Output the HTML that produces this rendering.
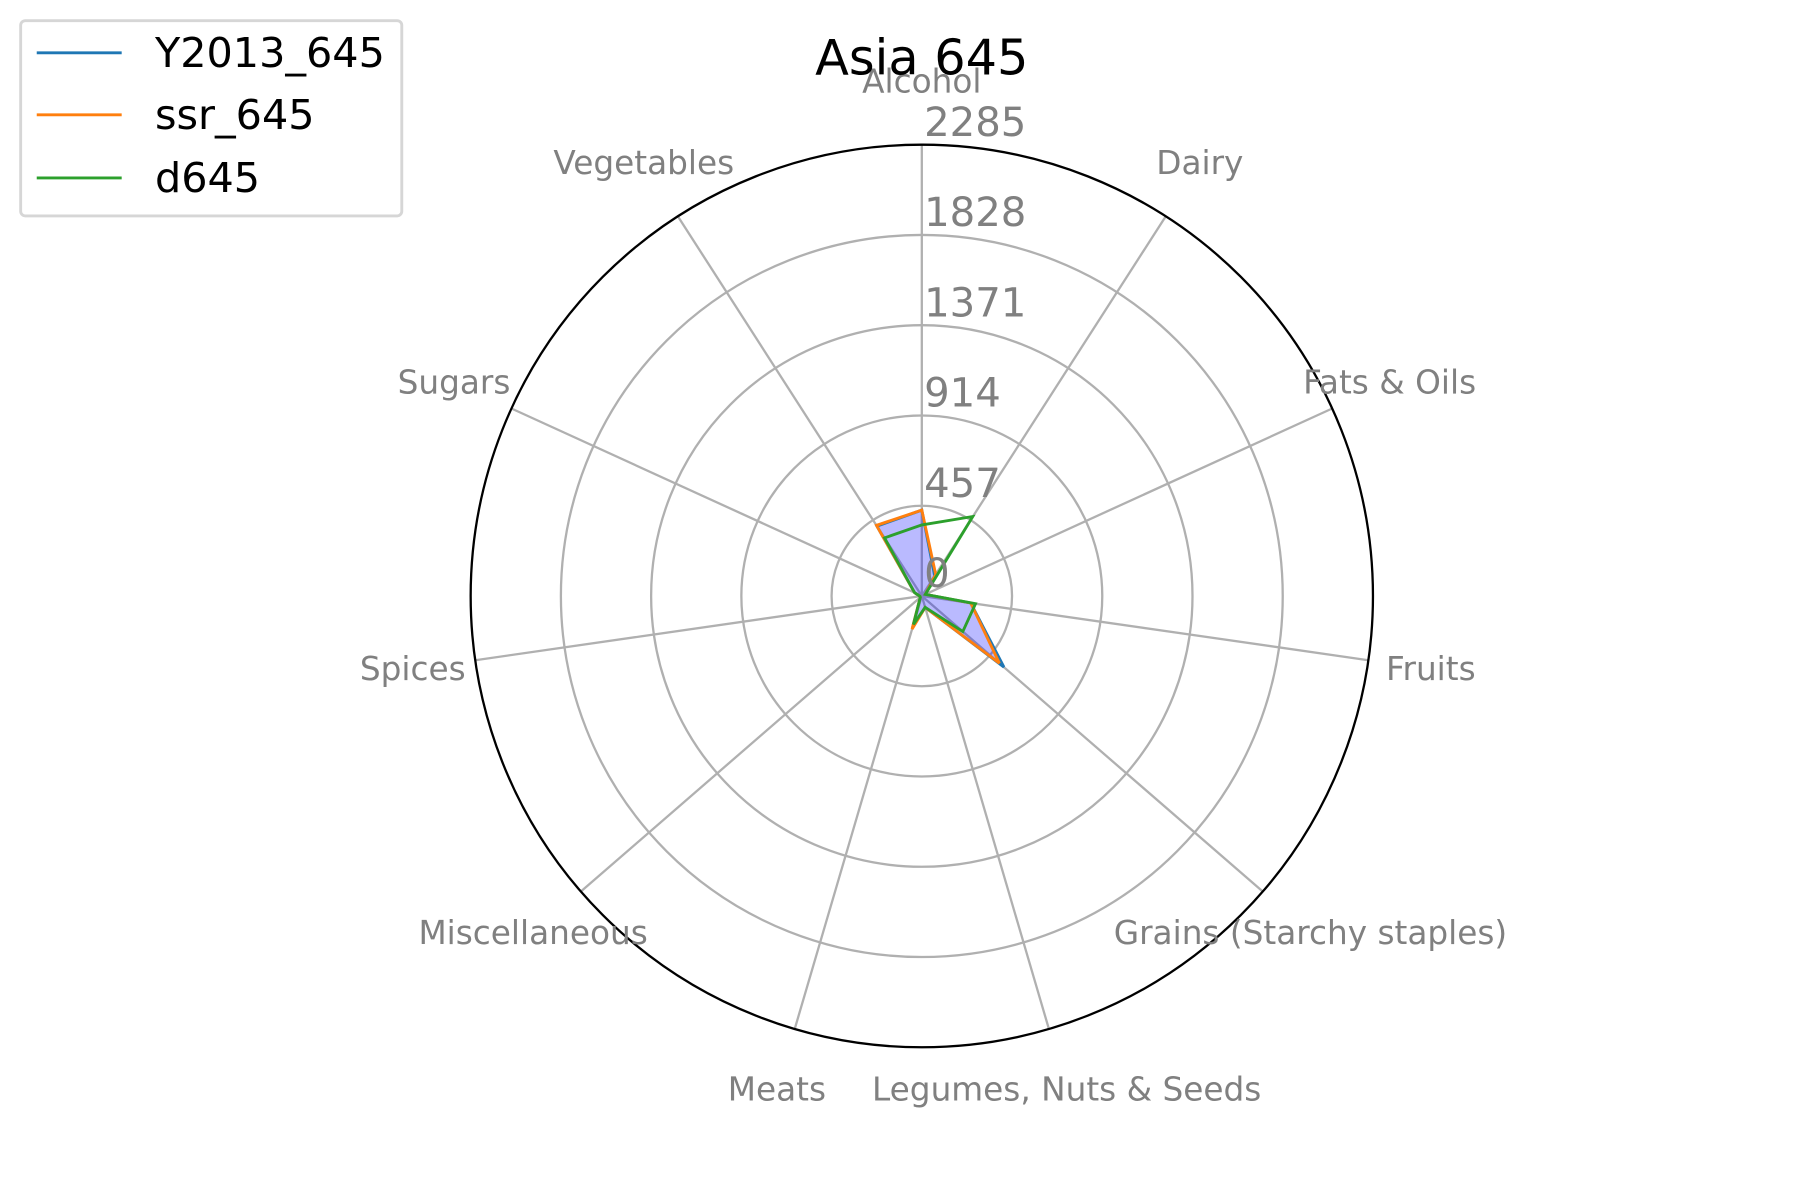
<!DOCTYPE html>
<html><head><meta charset="utf-8"><style>
html,body{margin:0;padding:0;background:#fff;}
svg{display:block;font-family:"DejaVu Sans","Liberation Sans",sans-serif;}
</style></head><body>
<svg id="chart" width="1800" height="1200" viewBox="0 0 1568 1045" preserveAspectRatio="none" xmlns="http://www.w3.org/2000/svg">
<rect width="1568" height="1045" fill="#fff"/>
<g id="grid"></g>
<g id="series"></g>
<g id="labels"></g>
<text x="803" y="65" font-size="43" text-anchor="middle" fill="#000">Asia 645</text>
<g>
<rect x="18" y="18" width="332" height="170" rx="4" fill="#fff" stroke="#d6d6d6" stroke-width="2.5"/>
<line x1="32" y1="46" x2="106" y2="46" stroke="#1f77b4" stroke-width="2.5"/>
<text x="135" y="46" font-size="36" dominant-baseline="central" fill="#000">Y2013_645</text>
<line x1="32" y1="100" x2="106" y2="100" stroke="#ff7f0e" stroke-width="2.5"/>
<text x="135" y="100" font-size="36" dominant-baseline="central" fill="#000">ssr_645</text>
<line x1="32" y1="155" x2="106" y2="155" stroke="#2ca02c" stroke-width="2.5"/>
<text x="135" y="155" font-size="36" dominant-baseline="central" fill="#000">d645</text>
</g>
</svg>
<script>
const categories = ["Alcohol","Dairy","Fats & Oils","Fruits","Grains (Starchy staples)","Legumes, Nuts & Seeds","Meats","Miscellaneous","Spices","Sugars","Vegetables"];
const y2013Values = [435,120,20,250,550,60,165,10,10,40,420];
const ssrValues = [435,130,20,250,520,60,175,10,10,40,425];
const d645Values = [360,478,20,275,275,60,150,10,10,40,350];
const tickValues = [0,457,914,1371,1828,2285];
const tickLabels = ["0","457","914","1371","1828","2285"];
const maxValue = 2285;

const NS="http://www.w3.org/2000/svg";
const cx=803, cy=519, R=393;
const n=categories.length;
function ang(i){return i*2*Math.PI/n;}
function rScale(v){return v/maxValue*R;}
function px(i,v){return cx+rScale(v)*Math.sin(ang(i));}
function py(i,v){return cy-rScale(v)*Math.cos(ang(i));}
function mk(tag,attrs,parent){const e=document.createElementNS(NS,tag);for(const k in attrs)e.setAttribute(k,attrs[k]);parent.appendChild(e);return e;}

const grid=document.getElementById('grid');
tickValues.forEach((t,k)=>{
  if(t===0||t===maxValue) return;
  const c=mk('circle',{cx:cx,cy:cy,r:rScale(t),fill:'none',stroke:'#b0b0b0','stroke-width':2},grid);
  
  
});
categories.forEach((c,i)=>{
  const l=mk('line',{x1:cx,y1:cy,x2:px(i,maxValue),y2:py(i,maxValue),stroke:'#b0b0b0','stroke-width':2},grid);
  
  
});
const outer=mk('circle',{cx:cx,cy:cy,r:R,fill:'none',stroke:'#000','stroke-width':2},grid);



const sg=document.getElementById('series');
function pts(vals){return vals.map((v,i)=>px(i,v).toFixed(1)+','+py(i,v).toFixed(1)).join(' ');}
const fill=mk('polygon',{points:pts(y2013Values),fill:'#0000ff','fill-opacity':0.27,stroke:'none'},sg);


[[y2013Values,'#1f77b4','y2013-line'],[ssrValues,'#ff7f0e','ssr-line'],[d645Values,'#2ca02c','d645-line']].forEach(s=>{
  const p=mk('polygon',{points:pts(s[0]),fill:'none',stroke:s[1],'stroke-width':2.5,'stroke-linejoin':'miter'},sg);
  
  
});

const lg=document.getElementById('labels');
categories.forEach((c,i)=>{
  const t=mk('text',{x:cx+448*Math.sin(ang(i)),y:cy-448*Math.cos(ang(i)),'font-size':28.5,fill:'#808080','text-anchor':'middle','dominant-baseline':'central'},lg);
  t.textContent=c;
  
  
});
tickValues.forEach((t,k)=>{
  const e=mk('text',{x:805,y:cy-rScale(t)-19,'font-size':35,fill:'#808080','dominant-baseline':'central'},lg);
  e.textContent=tickLabels[k];
  
  
});
</script>
</body></html>
